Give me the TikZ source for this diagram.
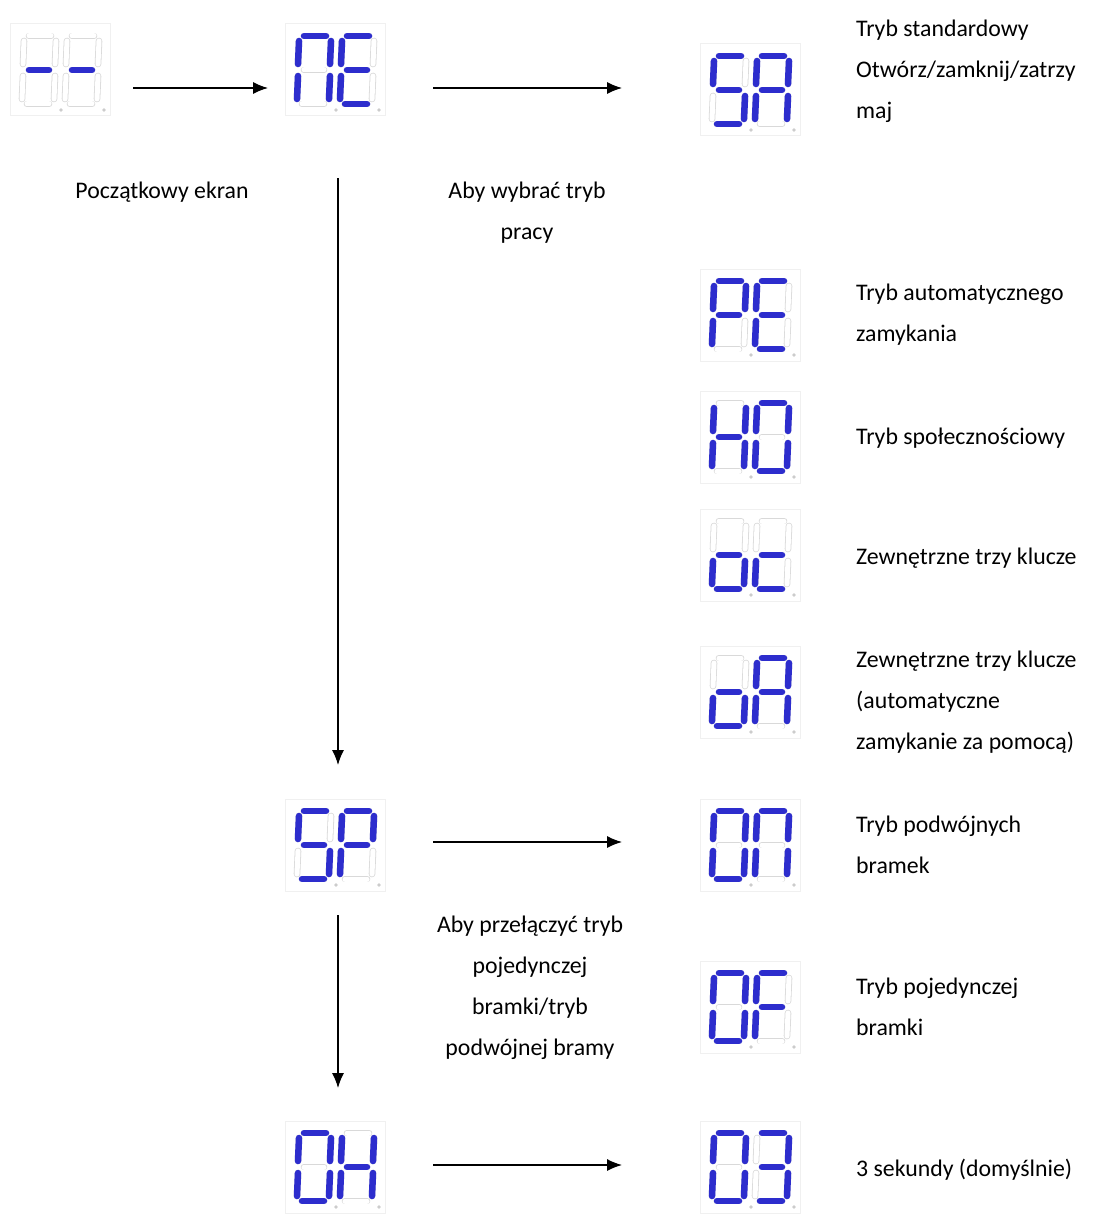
\documentclass[tikz,border=0pt]{standalone}
\usepackage{fontspec}
\setmainfont{Carlito}
\usetikzlibrary{arrows.meta}
\definecolor{segblue}{RGB}{45,45,205}
\tikzset{
 on/.style={draw=segblue,line width=6.5pt,line cap=round},
 off/.style={draw=gray!30,line width=0.8pt,double=white,double distance=5pt,line cap=round},
 dbox/.style={draw=gray!12,line width=1pt,fill=white},
 lbl/.style={font=\fontsize{23.8}{41}\selectfont,align=left,anchor=west,inner sep=0pt},
 clbl/.style={font=\fontsize{23.8}{41}\selectfont,align=center,inner sep=0pt},
 arr/.style={-{Latex[length=15pt,width=12pt]},line width=1.2pt}
}
\newcommand\sega[1]{\draw[#1] (-10,-34)--(12,-34);}
\newcommand\segb[1]{\draw[#1] (17,-29)--(16,-6);}
\newcommand\segc[1]{\draw[#1] (16,6)--(15,29);}
\newcommand\segd[1]{\draw[#1] (-12,34)--(10,34);}
\newcommand\sege[1]{\draw[#1] (-16,6)--(-17,29);}
\newcommand\segf[1]{\draw[#1] (-15,-29)--(-16,-6);}
\newcommand\segg[1]{\draw[#1] (-10,0)--(10,0);}
\newcommand\onedig[3]{\begin{scope}[shift={(#1,#2)}]
 \foreach \s in {a,b,c,d,e,f,g}{\csname seg\s\endcsname{off}}
 \foreach \s in {#3}{\csname seg\s\endcsname{on}}
 \fill[gray!40] (22,40) circle (1.8);
\end{scope}}
\newcommand\disp[5]{% name, x, y, segs1, segs2
 \node[dbox,minimum width=100pt,minimum height=92pt] (#1) at (#2,#3) {};
 \onedig{#2-21}{#3}{#4}\onedig{#2+22}{#3}{#5}}
\begin{document}
\begin{tikzpicture}[x=1pt,y=-1pt]
\useasboundingbox (0,0) rectangle (1106,1220);
\disp{d0}{60}{70}{g}{g}
\disp{ne}{335}{70}{a,b,c,e,f}{a,d,e,f,g}
\disp{sa}{750}{90}{a,f,g,c,d}{a,b,c,e,f,g}
\disp{pe}{750}{315}{a,b,f,g,e}{a,d,e,f,g}
\disp{ho}{750}{437}{b,c,e,f,g}{a,b,c,d,e,f}
\disp{oc}{750}{555}{c,d,e,g}{d,e,g}
\disp{oa}{750}{692}{c,d,e,g}{a,b,c,e,f,g}
\disp{sp}{335}{845}{a,f,g,c,d}{a,b,f,g,e}
\disp{on}{750}{845}{a,b,c,d,e,f}{a,b,c,e,f}
\disp{of}{750}{1007}{a,b,c,d,e,f}{a,e,f,g}
\disp{oh}{335}{1167}{a,b,c,d,e,f}{b,c,e,f,g}
\disp{o3}{750}{1167}{a,b,c,d,e,f}{a,b,c,d,g}
\coordinate (a1s) at (133,88); \coordinate (a1e) at (268,88);
\coordinate (a2s) at (433,88); \coordinate (a2e) at (622,88);
\coordinate (v1s) at (338,178); \coordinate (v1e) at (338,765);
\coordinate (a3s) at (433,842); \coordinate (a3e) at (622,842);
\coordinate (v2s) at (338,915); \coordinate (v2e) at (338,1088);
\coordinate (a4s) at (433,1165); \coordinate (a4e) at (622,1165);
\draw[arr] (a1s)--(a1e);
\draw[arr] (a2s)--(a2e);
\draw[arr] (v1s)--(v1e);
\draw[arr] (a3s)--(a3e);
\draw[arr] (v2s)--(v2e);
\draw[arr] (a4s)--(a4e);
\node[clbl] (t0) at (162,192) {Początkowy ekran};
\node[clbl] (t1) at (527,213) {Aby wybrać tryb\\pracy};
\node[clbl] (t2) at (530,988) {Aby przełączyć tryb\\pojedynczej\\bramki/tryb\\podwójnej bramy};
\node[lbl] (l1) at (856,71) {Tryb standardowy\\Otwórz/zamknij/zatrzy\\maj};
\node[lbl] (l2) at (856,315) {Tryb automatycznego\\zamykania};
\node[lbl] (l3) at (856,438) {Tryb społecznościowy};
\node[lbl] (l4) at (856,558) {Zewnętrzne trzy klucze};
\node[lbl] (l5) at (856,702) {Zewnętrzne trzy klucze\\(automatyczne\\zamykanie za pomocą)};
\node[lbl] (l6) at (856,845) {Tryb podwójnych\\bramek};
\node[lbl] (l7) at (856,1007) {Tryb pojedynczej\\bramki};
\node[lbl] (l8) at (856,1170) {3 sekundy (domyślnie)};
\end{tikzpicture}
\end{document}
